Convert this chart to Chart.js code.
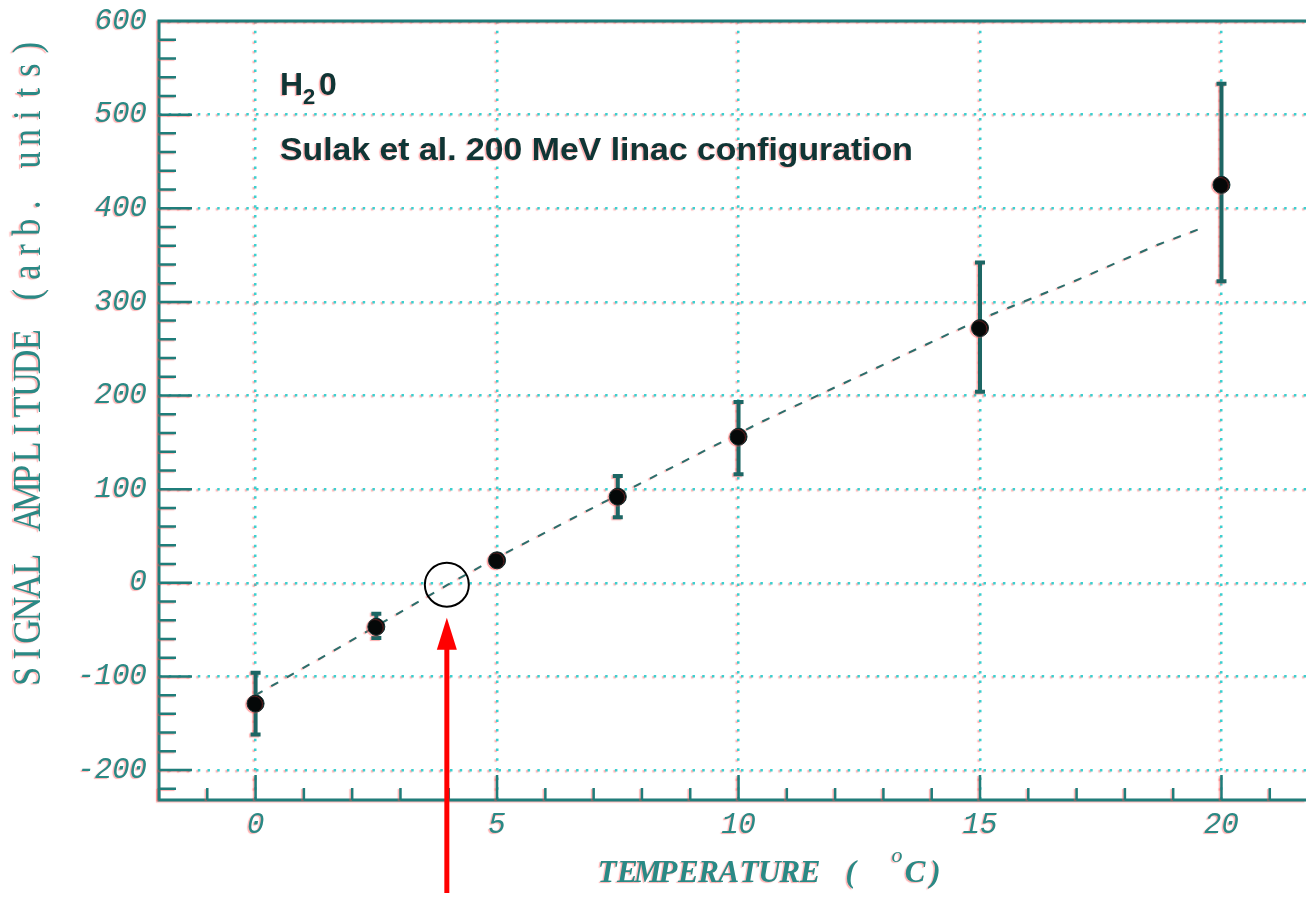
<!DOCTYPE html>
<html>
<head>
<meta charset="utf-8">
<title>Signal amplitude vs temperature</title>
<script src="https://cdn.jsdelivr.net/npm/chart.js@4.4.1/dist/chart.umd.min.js"></script>
<style>
  html, body { margin: 0; padding: 0; background: #fff; }
  canvas { display: block; }
</style>
</head>
<body>
<canvas id="chart" width="1306" height="922"></canvas>
<script>
// measured points (temperature in C, amplitude in arb. units)
const temps = [0, 2.5, 5, 7.5, 10, 15, 20];
const amplitudes = [-129, -47, 24, 92, 156, 272, 425];
const errUp = [33, 14, 6, 22, 37, 70, 108];
const errDown = [33, 12, 6, 22, 40, 68, 103];

// dashed fit curve
const fitTemps = [0, 1.84, 3.98, 5, 7.02, 7.85, 10.48, 12.63, 14.36, 15.22, 16.95, 18.68, 19.65];
const fitAmps = [-120, -66, -2, 27, 81, 103, 172, 224, 266, 286, 322, 361, 380];

// axis ticks
const xTickValues = [0, 5, 10, 15, 20];
const yTickValues = [-200, -100, 0, 100, 200, 300, 400, 500, 600];

// circled zero crossing
const markTemp = 3.96;
const markAmp = -2;

const AXIS = '#1f7d7a';
const LABEL = '#2a8985';
const GRID = '#3ccfcf';
const BAR = '#1d6664';
const INK = '#0f3535';

function fringe(ctx) {
    ctx.shadowColor = 'rgba(255,80,80,0.45)';
    ctx.shadowOffsetX = -1.5;
    ctx.shadowOffsetY = 1;
    ctx.shadowBlur = 1;
}

function noFringe(ctx) {
    ctx.shadowColor = 'rgba(0,0,0,0)';
    ctx.shadowOffsetX = 0;
    ctx.shadowOffsetY = 0;
    ctx.shadowBlur = 0;
}

// typewriter style: every glyph centred in a fixed-width cell
function cellText(ctx, text, x, y, adv) {
    ctx.textAlign = 'center';
    for (let i = 0; i < text.length; i++) {
        ctx.fillText(text[i], x + adv * (i + 0.5), y);
    }
}

const errorBars = {
    id: 'errorBars',
    beforeDraw(chart) {
        fringe(chart.ctx);
    },
    beforeDatasetsDraw(chart) {
        const ctx = chart.ctx, xs = chart.scales.x, ys = chart.scales.y;
        ctx.save();
        ctx.strokeStyle = BAR;
        temps.forEach((t, i) => {
            const px = xs.getPixelForValue(t);
            const top = ys.getPixelForValue(amplitudes[i] + errUp[i]);
            const bot = ys.getPixelForValue(amplitudes[i] - errDown[i]);
            ctx.lineWidth = 4;
            ctx.beginPath();
            ctx.moveTo(px, top);
            ctx.lineTo(px, bot);
            ctx.moveTo(px - 5, top);
            ctx.lineTo(px + 5, top);
            ctx.moveTo(px - 5, bot);
            ctx.lineTo(px + 5, bot);
            ctx.stroke();
        });
        ctx.restore();
    }
};

const frame = {
    id: 'frame',
    afterDraw(chart) {
        const ctx = chart.ctx, a = chart.chartArea;
        const xs = chart.scales.x, ys = chart.scales.y;
        ctx.save();

        // frame: top, left, bottom
        ctx.strokeStyle = AXIS;
        ctx.lineWidth = 3;
        ctx.beginPath();
        ctx.moveTo(a.right, a.top);
        ctx.lineTo(a.left, a.top);
        ctx.lineTo(a.left, a.bottom);
        ctx.lineTo(a.right, a.bottom);
        ctx.stroke();

        // inward tick marks, minor every 20 / every 1 degree
        ctx.lineWidth = 2.5;
        ctx.beginPath();
        for (let v = Math.ceil(ys.min / 20) * 20; v < ys.max; v += 20) {
            const py = ys.getPixelForValue(v);
            const len = v % 100 === 0 ? 33 : 17;
            ctx.moveTo(a.left, py);
            ctx.lineTo(a.left + len, py);
        }
        for (let v = Math.ceil(xs.min); v <= xs.max; v += 1) {
            const px = xs.getPixelForValue(v);
            const len = v % 5 === 0 ? 25 : 12;
            ctx.moveTo(px, a.bottom);
            ctx.lineTo(px, a.bottom - len);
        }
        ctx.stroke();

        // y title
        ctx.fillStyle = LABEL;
        ctx.save();
        ctx.translate(29, 362);
        ctx.rotate(-Math.PI / 2);
        ctx.scale(1, 1.2);
        ctx.font = '34px "Liberation Serif"';
        ctx.textBaseline = 'middle';
        const yTitle = 'SIGNAL AMPLITUDE (arb. units)';
        cellText(ctx, yTitle, -yTitle.length * 22.45 / 2, 0, 22.45);
        ctx.restore();

        // x title with superscript degree
        ctx.textBaseline = 'alphabetic';
        ctx.font = 'italic bold 31px "Liberation Serif"';
        cellText(ctx, 'TEMPERATURE ( ', 597, 882, 20.3);
        ctx.font = 'italic 22px "Liberation Serif"';
        ctx.fillText('o', 897, 862);
        ctx.font = 'italic bold 31px "Liberation Serif"';
        cellText(ctx, 'C)', 905, 882, 20.3);

        // annotation text
        ctx.fillStyle = INK;
        ctx.textAlign = 'left';
        ctx.font = 'bold 32px "Liberation Sans"';
        ctx.fillText('H', 280, 95);
        ctx.font = 'bold 22px "Liberation Sans"';
        ctx.fillText('2', 303, 104);
        ctx.font = 'bold 32px "Liberation Sans"';
        ctx.fillText('0', 319, 95);

        const note = 'Sulak et al. 200 MeV linac configuration';
        const sx = 633 / ctx.measureText(note).width;
        ctx.save();
        ctx.translate(280, 160);
        ctx.scale(sx, 1);
        ctx.fillText(note, 0, 0);
        ctx.restore();

        ctx.restore();

        // circle and red arrow drawn clean
        noFringe(ctx);
        ctx.save();
        const cx = xs.getPixelForValue(markTemp);
        const cy = ys.getPixelForValue(markAmp);
        ctx.strokeStyle = '#000';
        ctx.lineWidth = 2;
        ctx.beginPath();
        ctx.arc(cx, cy, 22, 0, Math.PI * 2);
        ctx.stroke();

        ctx.strokeStyle = '#ff0000';
        ctx.fillStyle = '#ff0000';
        ctx.lineWidth = 5;
        ctx.beginPath();
        ctx.moveTo(cx, 893);
        ctx.lineTo(cx, cy + 60);
        ctx.stroke();
        ctx.beginPath();
        ctx.moveTo(cx, cy + 33);
        ctx.lineTo(cx - 10, cy + 65);
        ctx.lineTo(cx + 10, cy + 65);
        ctx.closePath();
        ctx.fill();
        ctx.restore();
    }
};

const tickFont = { family: '"Liberation Mono"', style: 'italic', size: 29 };

new Chart(document.getElementById('chart'), {
    type: 'scatter',
    data: {
        datasets: [
            {
                label: 'data',
                data: temps.map((t, i) => ({ x: t, y: amplitudes[i] })),
                pointRadius: 8.5,
                pointHoverRadius: 8.5,
                pointBackgroundColor: '#050808',
                pointBorderColor: '#0b2e2e',
                pointBorderWidth: 1
            },
            {
                type: 'line',
                label: 'fit',
                data: fitTemps.map((t, i) => ({ x: t, y: fitAmps[i] })),
                borderColor: '#2b6f6c',
                borderWidth: 2,
                borderDash: [8, 10],
                pointRadius: 0,
                tension: 0,
                fill: false
            }
        ]
    },
    options: {
        responsive: false,
        animation: false,
        events: [],
        layout: { autoPadding: false, padding: { top: 21, right: 0, left: 0, bottom: 0 } },
        plugins: {
            legend: { display: false },
            tooltip: { enabled: false }
        },
        scales: {
            x: {
                type: 'linear',
                min: -2,
                max: 21.75,
                afterBuildTicks: s => { s.ticks = xTickValues.map(v => ({ value: v })); },
                afterFit: s => { s.height = 122; s.paddingLeft = 0; s.paddingRight = 0; },
                grid: { color: GRID, lineWidth: 2.5, drawTicks: false },
                border: { display: false, dash: [2.5, 7.2] },
                ticks: { color: LABEL, font: tickFont, padding: 8, maxRotation: 0 }
            },
            y: {
                type: 'linear',
                min: -232,
                max: 600,
                afterBuildTicks: s => { s.ticks = yTickValues.map(v => ({ value: v })); },
                afterFit: s => { s.width = 159; s.paddingTop = 0; s.paddingBottom = 0; },
                grid: { color: GRID, lineWidth: 2.5, drawTicks: false },
                border: { display: false, dash: [2.5, 7.2] },
                ticks: { color: LABEL, font: tickFont, padding: 12 }
            }
        }
    },
    plugins: [errorBars, frame]
});
</script>
</body>
</html>
